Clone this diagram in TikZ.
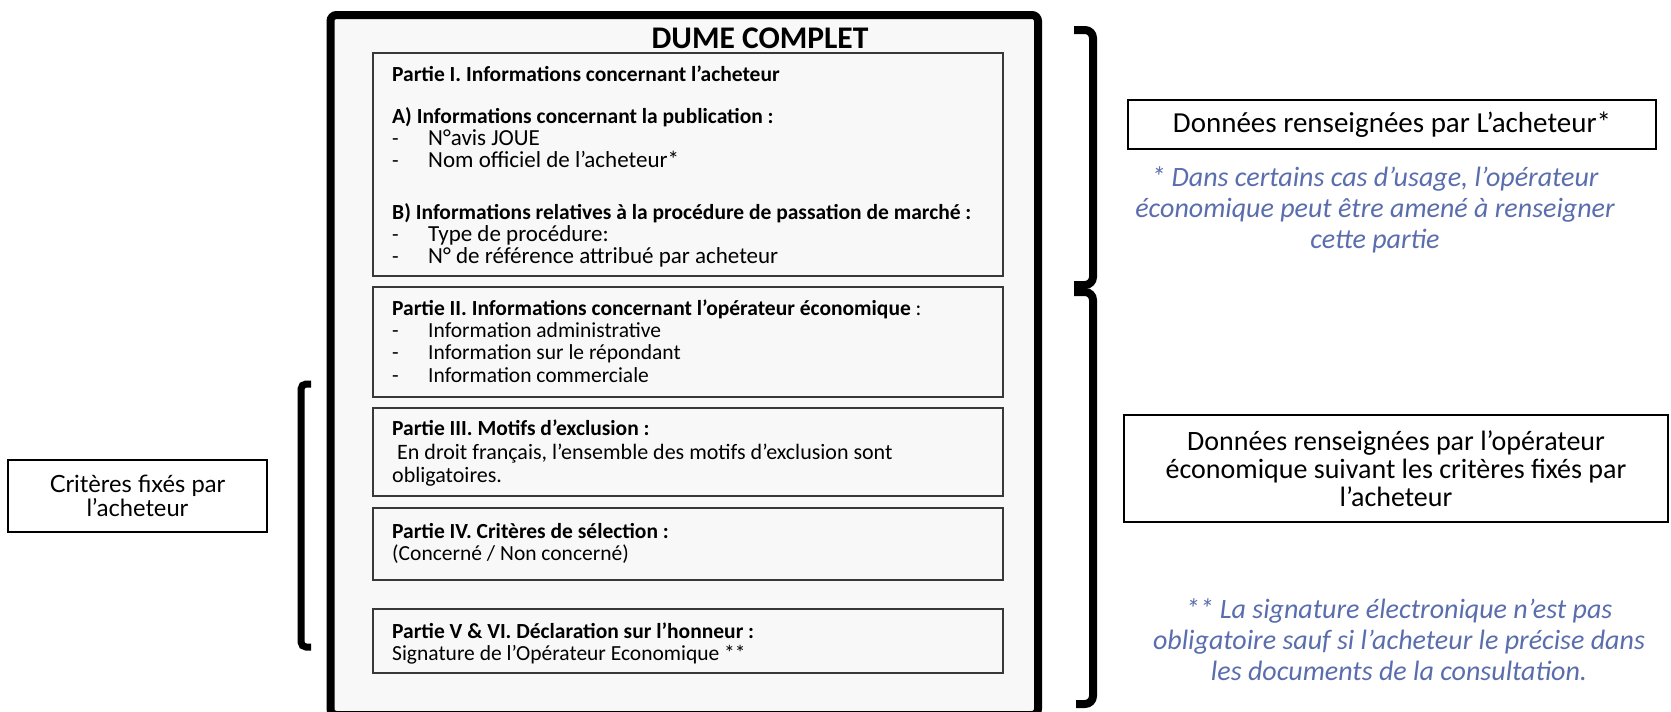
\documentclass[tikz,border=0pt]{standalone}
\usepackage{fontspec}
\setmainfont{Carlito}
\newfontfamily\mfont{Lato}
\definecolor{noteblue}{HTML}{5A6EAE}
\definecolor{panel}{HTML}{F8F8F8}
\begin{document}
\begin{tikzpicture}[x=1pt,y=-1pt,
  panelbox/.style={draw=black!78, line width=1.6pt, fill=panel, inner sep=0pt, outer sep=0pt, anchor=north west, minimum width=630pt},
  tl/.style={anchor=base west, inner sep=0pt, font=\fontsize{21.5}{22}\selectfont},
  ti/.style={anchor=base west, inner sep=0pt, font=\fontsize{23}{22}\selectfont},
  tb/.style={anchor=base west, inner sep=0pt, font=\bfseries\fontsize{21.5}{22}\selectfont},
  sidebox/.style={draw=black, line width=2pt, fill=white, align=center, inner sep=0pt},
  note/.style={text=noteblue, align=center, inner sep=0pt, font=\itshape\fontsize{28}{31}\selectfont},
  bracket/.style={line width=8pt, rounded corners=8pt}]
\useasboundingbox (0,0) rectangle (1671,712);
\fill[white] (0,0) rectangle (1671,712);
% outer frame
\node[draw=black, line width=8pt, rounded corners=6pt, fill=panel, inner sep=0pt,
      minimum width=707.5pt, minimum height=700pt, anchor=north west] (outer) at (326.5,11) {};
\node[anchor=base, inner sep=0pt, font=\bfseries\fontsize{31.5}{31.5}\selectfont] (title) at (760,48) {DUME COMPLET};
% inner panels
\node[panelbox, minimum height=223pt] (p1) at (373,53) {};
\node[panelbox, minimum height=110pt] (p2) at (373,287) {};
\node[panelbox, minimum height=88pt] (p3) at (373,408) {};
\node[panelbox, minimum height=72pt] (p4) at (373,508) {};
\node[panelbox, minimum height=64pt] (p5) at (373,609) {};
% Partie I
\node[tb] (p1a) at (392,81) {Partie I. Informations concernant l’acheteur};
\node[tb] (p1b) at (392,123) {A) Informations concernant la publication :};
\node[tl] (p1c) at (392,145) {-};
\node[ti] (p1d) at (428,145) {N°avis JOUE};
\node[tl] (p1e) at (392,167) {-};
\node[ti] (p1f) at (428,167) {Nom officiel de l’acheteur*};
\node[tb] (p1g) at (392,219) {B) Informations relatives à la procédure de passation de marché :};
\node[tl] (p1h) at (392,241) {-};
\node[ti] (p1i) at (428,241) {Type de procédure:};
\node[tl] (p1j) at (392,263) {-};
\node[ti] (p1k) at (428,263) {N° de référence attribué par acheteur};
% Partie II
\node[tl] (p2a) at (392,315) {\textbf{Partie II. Informations concernant l’opérateur économique} :};
\node[tl] (p2b) at (392,337) {-};
\node[tl] (p2c) at (428,337) {Information administrative};
\node[tl] (p2d) at (392,359) {-};
\node[tl] (p2e) at (428,359) {Information sur le répondant};
\node[tl] (p2f) at (392,382) {-};
\node[tl] (p2g) at (428,382) {Information commerciale};
% Partie III
\node[tb] (p3a) at (392,435) {Partie III. Motifs d’exclusion :};
\node[tl, font=\fontsize{22}{22}\selectfont] (p3b) at (397,459) {En droit français, l’ensemble des motifs d’exclusion sont};
\node[tl, font=\fontsize{22}{22}\selectfont] (p3c) at (392,482) {obligatoires.};
% Partie IV
\node[tb] (p4a) at (392,538) {Partie IV. Critères de sélection :};
\node[tl] (p4b) at (392,560) {(Concerné / Non concerné)};
% Partie V
\node[tb] (p5a) at (392,638) {Partie V \& VI. Déclaration sur l’honneur :};
\node[tl] (p5b) at (392,660) {Signature de l’Opérateur Economique **};
% side boxes
\node[sidebox, minimum width=528pt, minimum height=49pt, font=\fontsize{29}{29}\selectfont] (rb1) at (1392,124.5) {Données renseignées par L’acheteur*};
\node[sidebox, minimum width=544pt, minimum height=107pt, font=\fontsize{28}{28}\selectfont] (rb2) at (1396,468.5) {Données renseignées par l’opérateur\\économique suivant les critères fixés par\\l’acheteur};
\node[sidebox, minimum width=259pt, minimum height=72pt, font=\mfont\fontsize{23.7}{24}\selectfont] (lb) at (137.5,496) {Critères fixés par\\l’acheteur};
% notes
\node[note] (n1) at (1375,210) {* Dans certains cas d’usage, l’opérateur\\économique peut être amené à renseigner\\cette partie};
\node[note] (n2) at (1399,640) {** La signature électronique n’est pas\\obligatoire sauf si l’acheteur le précise dans\\les documents de la consultation.};
% brackets
\coordinate (la) at (311,384); \coordinate (lb1) at (301,384);
\coordinate (lc) at (301,647); \coordinate (ld) at (311,647);
\draw[line width=7pt, rounded corners=5pt] (la) -- (lb1) -- (lc) -- (ld);
\coordinate (ra) at (1074,30); \coordinate (rb) at (1093,30);
\coordinate (rc) at (1093,285); \coordinate (rd) at (1074,285);
\draw[bracket] (ra) -- (rb) -- (rc) -- (rd);
\coordinate (sa) at (1074,292); \coordinate (sb) at (1093,292);
\coordinate (sc) at (1093,704); \coordinate (sd) at (1076,704);
\draw[bracket] (sa) -- (sb) -- (sc) -- (sd);
\end{tikzpicture}
\end{document}
